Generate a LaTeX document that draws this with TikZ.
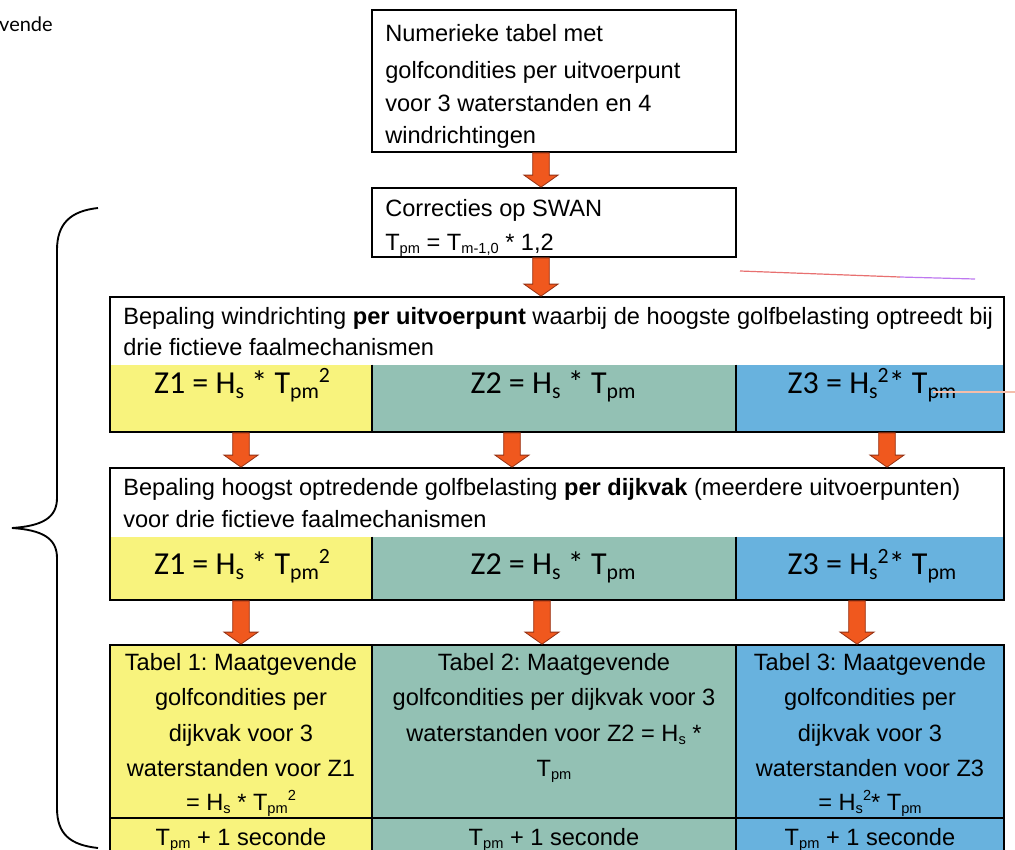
\documentclass[tikz,border=0pt]{standalone}
\usepackage{fontspec}
\setmainfont{Liberation Sans}
\newfontfamily\carl{Carlito}
\newfontfamily\latof{Lato}
\usetikzlibrary{fit,calc}
\frenchspacing
\definecolor{yel}{RGB}{248,243,125}
\definecolor{teal2}{RGB}{147,193,180}
\definecolor{blu}{RGB}{104,178,222}
\definecolor{arrfill}{RGB}{240,88,30}
\definecolor{arredge}{RGB}{150,50,20}
\definecolor{pinkln}{RGB}{232,112,112}
\definecolor{violn}{RGB}{190,120,240}
\definecolor{peach}{RGB}{245,190,170}
\newcommand\sbs[1]{\raisebox{-0.3ex}{\scalebox{0.62}{#1}}}
\newcommand\sps[1]{\raisebox{0.8ex}{\scalebox{0.62}{#1}}}
\newcommand\zsb[1]{\raisebox{-0.35ex}{\scalebox{0.68}{#1}}}
\newcommand\zsp[1]{\raisebox{0.7ex}{\scalebox{0.68}{#1}}}
\tikzset{
  frame/.style={draw=black, line width=1.3pt, inner sep=0pt},
  cell/.style={inner sep=0pt, draw=none},
  txt/.style={inner sep=0pt, font=\fontsize{17.7}{20}\selectfont},
  zt/.style={inner sep=0pt, font=\carl\fontsize{24}{27}\selectfont},
  divider/.style={draw=black, line width=1.3pt},
  blockarrow/.style={fill=arrfill, draw=arredge, line width=0.6pt,
    to path={let \p1=(\tikztostart), \p2=(\tikztotarget) in
      (\x1-6.2pt,\y1) -- (\x1-6.2pt,\y2+9pt) -- (\x1-12.75pt,\y2+9pt) -- (\x1,\y2)
      -- (\x1+12.75pt,\y2+9pt) -- (\x1+6.2pt,\y2+9pt) -- (\x1+6.2pt,\y1) -- cycle}},
}
\begin{document}
\begin{tikzpicture}[x=0.75pt,y=-0.75pt]
\useasboundingbox (0,0) rectangle (1015,850);
\clip (0,0) rectangle (1015,850);
\fill[white] (0,0) rectangle (1015,850);

% stray text at top-left
\node[inner sep=0pt, anchor=base east, font=\latof\fontsize{15}{18}\selectfont] (vende) at (53,31) {vende};

% top box
\node[frame, fill=white, fit={(372,10) (736,152)}] (top) {};
\node[txt, anchor=base west] (top1) at (385,41) {Numerieke tabel met};
\node[txt, anchor=base west] (top2) at (385,78) {golfcondities per uitvoerpunt};
\node[txt, anchor=base west] (top3) at (385,111) {voor 3 waterstanden en 4};
\node[txt, anchor=base west] (top4) at (385,143) {windrichtingen};

% corrections box
\node[frame, fill=white, fit={(372,188) (736,257)}] (corr) {};
\node[txt, anchor=base west] (corr1) at (385,216) {Correcties op SWAN};
\node[txt, anchor=base west] (corr2) at (385,250) {T\sbs{pm} = T\sbs{m-1,0} * 1,2};

% stray line
\draw[pinkln, line width=0.9pt] (740,271) -- (900,277);
\draw[violn, line width=0.9pt] (900,277) -- (975,279);

% box 1
\node[cell, fill=white, fit={(110,297) (1004,432)}] (b1) {};
\node[cell, fill=yel, fit={(110,365) (372,432)}] (b1y) {};
\node[cell, fill=teal2, fit={(372,365) (736,432)}] (b1t) {};
\node[cell, fill=blu, fit={(736,365) (1004,432)}] (b1b) {};
\draw[divider] (b1t.north west) -- (b1t.south west);
\draw[divider] (b1b.north west) -- (b1b.south west);
\node[frame, fit={(110,297) (1004,432)}] (b1f) {};
\node[txt, anchor=base west] (b1l1) at (123,324) {Bepaling windrichting \textbf{per uitvoerpunt} waarbij de hoogste golfbelasting optreedt bij};
\node[txt, anchor=base west] (b1l2) at (123,355) {drie fictieve faalmechanismen};
\node[zt, anchor=base] (z11) at (242,393) {Z1 = H\zsb{s} * T\zsb{pm}\zsp{2}};
\node[zt, anchor=base] (z12) at (553,393) {Z2 = H\zsb{s} * T\zsb{pm}};
\node[zt, anchor=base] (z13) at (872,393) {Z3 = H\zsb{s}\zsp{2}* T\zsb{pm}};
\draw[peach, line width=1.3pt] (933,392) -- (1015,392);

% box 2
\node[cell, fill=white, fit={(110,468) (1004,600)}] (b2) {};
\node[cell, fill=yel, fit={(110,537) (372,600)}] (b2y) {};
\node[cell, fill=teal2, fit={(372,537) (736,600)}] (b2t) {};
\node[cell, fill=blu, fit={(736,537) (1004,600)}] (b2b) {};
\draw[divider] (b2t.north west) -- (b2t.south west);
\draw[divider] (b2b.north west) -- (b2b.south west);
\node[frame, fit={(110,468) (1004,600)}] (b2f) {};
\node[txt, anchor=base west] (b2l1) at (123,495) {Bepaling hoogst optredende golfbelasting \textbf{per dijkvak} (meerdere uitvoerpunten)};
\node[txt, anchor=base west] (b2l2) at (123,527) {voor drie fictieve faalmechanismen};
\node[zt, anchor=base] (z21) at (242,574) {Z1 = H\zsb{s} * T\zsb{pm}\zsp{2}};
\node[zt, anchor=base] (z22) at (553,574) {Z2 = H\zsb{s} * T\zsb{pm}};
\node[zt, anchor=base] (z23) at (872,574) {Z3 = H\zsb{s}\zsp{2}* T\zsb{pm}};

% bottom table
\node[cell, fill=yel, fit={(110,645) (372,870)}] (t1) {};
\node[cell, fill=teal2, fit={(372,645) (736,870)}] (t2) {};
\node[cell, fill=blu, fit={(736,645) (1004,870)}] (t3) {};
\draw[divider] (t2.north west) -- (t2.south west);
\draw[divider] (t3.north west) -- (t3.south west);
\draw[divider] (t1.west |- 0,818) -- (t3.east |- 0,818);
\node[frame, fit={(110,645) (1004,870)}] (tf) {};

\node[txt, anchor=base] (t1a) at (241,670) {Tabel 1: Maatgevende};
\node[txt, anchor=base] (t1b) at (241,705) {golfcondities per};
\node[txt, anchor=base] (t1c) at (241,741) {dijkvak voor 3};
\node[txt, anchor=base] (t1d) at (241,776) {waterstanden voor Z1};
\node[txt, anchor=base] (t1e) at (241,810) {= H\sbs{s} * T\sbs{pm}\sps{2}};
\node[txt, anchor=base] (t1f) at (241,845) {T\sbs{pm} + 1 seconde};

\node[txt, anchor=base] (t2a) at (554,670) {Tabel 2: Maatgevende};
\node[txt, anchor=base] (t2b) at (554,705) {golfcondities per dijkvak voor 3};
\node[txt, anchor=base] (t2c) at (554,741) {waterstanden voor Z2 = H\sbs{s} *};
\node[txt, anchor=base] (t2d) at (554,776) {T\sbs{pm}};
\node[txt, anchor=base] (t2f) at (554,845) {T\sbs{pm} + 1 seconde};

\node[txt, anchor=base] (t3a) at (870,670) {Tabel 3: Maatgevende};
\node[txt, anchor=base] (t3b) at (870,705) {golfcondities per};
\node[txt, anchor=base] (t3c) at (870,741) {dijkvak voor 3};
\node[txt, anchor=base] (t3d) at (870,776) {waterstanden voor Z3};
\node[txt, anchor=base] (t3e) at (870,810) {= H\sbs{s}\sps{2}* T\sbs{pm}};
\node[txt, anchor=base] (t3f) at (870,845) {T\sbs{pm} + 1 seconde};

% arrow columns
\coordinate (ca) at (541,0);
\coordinate (c1) at (241,0);
\coordinate (c2) at (512,0);
\coordinate (c3) at (887,0);
\coordinate (d2) at (542,0);
\coordinate (d3) at (857,0);

\draw[blockarrow] (top.south -| ca) to (corr.north -| ca);
\draw[blockarrow] (corr.south -| ca) to (b1f.north -| ca);
\draw[blockarrow] (b1f.south -| c1) to (b2f.north -| c1);
\draw[blockarrow] (b1f.south -| c2) to (b2f.north -| c2);
\draw[blockarrow] (b1f.south -| c3) to (b2f.north -| c3);
\draw[blockarrow] (b2f.south -| c1) to (tf.north -| c1);
\draw[blockarrow] (b2f.south -| d2) to (tf.north -| d2);
\draw[blockarrow] (b2f.south -| d3) to (tf.north -| d3);

% brace
\draw[line width=1.4pt] (98,208) .. controls (70,211) and (57,224) .. (57,250)
  -- (57,498) .. controls (57,518) and (42,526) .. (12,528)
  .. controls (42,530) and (57,538) .. (57,558)
  -- (57,808) .. controls (57,834) and (70,845) .. (98,848);
\end{tikzpicture}
\end{document}
